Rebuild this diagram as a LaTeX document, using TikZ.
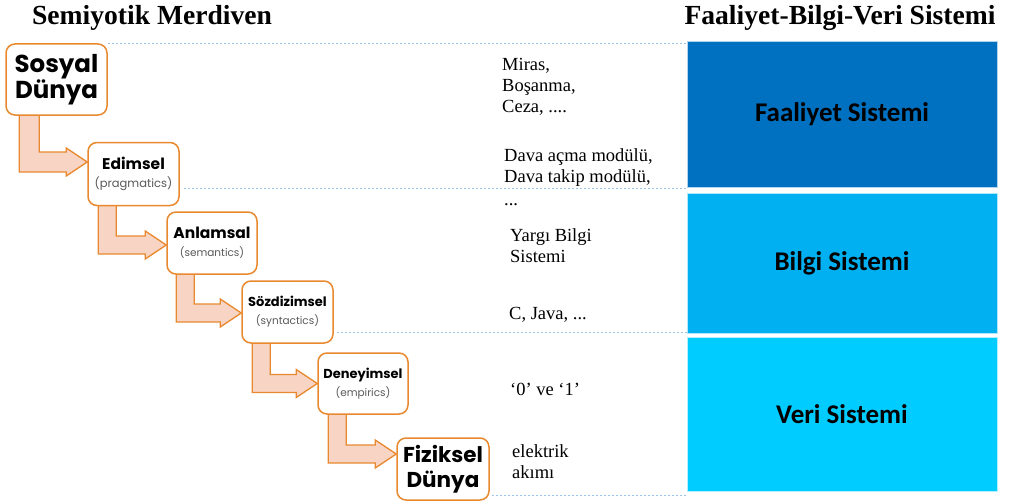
\documentclass[tikz,border=0pt]{standalone}
\usepackage{fontspec}
\setmainfont{Liberation Serif}
\newfontfamily\gothicfont{Poppins}
\newfontfamily\calfont{Carlito}
\usetikzlibrary{calc,backgrounds}
\definecolor{orng}{HTML}{E8892F}
\definecolor{peach}{HTML}{F8D4C4}
\definecolor{fblue}{HTML}{0070C0}
\definecolor{bblue}{HTML}{00B0F0}
\definecolor{vblue}{HTML}{00CCFF}
\definecolor{dotblue}{HTML}{9DC3E6}
\definecolor{subgray}{HTML}{595959}
\newcommand\subtextfont{\gothicfont\mdseries\fontsize{10.5}{12}\selectfont\color{subgray}}
\newcommand\stairarrow[5]{%
  \draw[stair] let \p1=($(#1.south west)+(#3,-3)$), \p2=($(#2.west)+(0,#4)$) in
    (\x1,\y1) -- (\x1+#5pt,\y1) -- (\x1+#5pt,\y2+#5pt/2) -- (\x2-21pt,\y2+#5pt/2)
    -- (\x2-21pt,\y2+14pt) -- (\x2,\y2) -- (\x2-21pt,\y2-14pt)
    -- (\x2-21pt,\y2-#5pt/2) -- (\x1,\y2-#5pt/2) -- cycle;}
\begin{document}
\begin{tikzpicture}[x=1pt,y=-1pt,
  stepbox/.style={draw=orng, line width=1.5pt, fill=white, rounded corners=9pt,
    align=center, inner sep=0pt},
  stair/.style={draw=orng, fill=peach, line width=1.3pt, line join=miter},
  sysbox/.style={fill=#1, draw=white!70!#1, line width=0.6pt, minimum width=310pt,
    inner sep=0pt, font=\calfont\bfseries\fontsize{27}{32}\selectfont},
  dotline/.style={draw=dotblue, line width=1pt, dash pattern=on 2.5pt off 1.5pt},
  note/.style={anchor=base west, inner sep=0pt, font=\fontsize{18.5}{21}\selectfont, align=left},
  titletext/.style={anchor=base, inner sep=0pt, font=\bfseries\fontsize{27.6}{30}\selectfont}]
\path[use as bounding box] (0,0) rectangle (1011,503);

% titles
\node[titletext] (t1) at (152,25) {Semiyotik Merdiven};
\node[titletext] (t2) at (840,25) {Faaliyet-Bilgi-Veri Sistemi};

% system boxes
\node[sysbox=fblue, minimum height=146pt] (faaliyet) at (842,114) {Faaliyet Sistemi};
\node[sysbox=bblue, minimum height=140pt] (bilgi) at (842,263) {Bilgi Sistemi};
\node[sysbox=vblue, minimum height=154pt] (veri) at (842,414) {Veri Sistemi};

% semiotic ladder
\node[stepbox, minimum width=101pt, minimum height=71pt,
  font=\gothicfont\bfseries\fontsize{24.5}{26}\selectfont] (sosyal) at (56.5,79.5) {Sosyal\\Dünya};
\node[stepbox, minimum width=91pt, minimum height=63pt,
  font=\gothicfont\bfseries\fontsize{15.5}{18}\selectfont] (edimsel) at (133.5,174)
  {Edimsel\\{\subtextfont\fontsize{11.5}{12}\selectfont(pragmatics)}};
\node[stepbox, minimum width=90pt, minimum height=62pt,
  font=\gothicfont\bfseries\fontsize{15.5}{18}\selectfont] (anlamsal) at (212,243)
  {Anlamsal\\{\subtextfont(semantics)}};
\node[stepbox, minimum width=91pt, minimum height=62pt,
  font=\gothicfont\bfseries\fontsize{13}{18}\selectfont] (sozdizimsel) at (287.5,312)
  {Sözdizimsel\\{\subtextfont(syntactics)}};
\node[stepbox, minimum width=90pt, minimum height=61pt,
  font=\gothicfont\bfseries\fontsize{13}{18}\selectfont] (deneyimsel) at (363,383.5)
  {Deneyimsel\\{\subtextfont(empirics)}};
\node[stepbox, minimum width=92pt, minimum height=62pt,
  font=\gothicfont\bfseries\fontsize{21.5}{25}\selectfont] (fiziksel) at (443,469) {Fiziksel\\Dünya};

% notes (base anchor = baseline of the last line)
\node[note] (n1) at (502,112) {Miras,\\Boşanma,\\Ceza, ....};
\node[note] (n2) at (504,182) {Dava açma modülü,\\Dava takip modülü,};
\node[note] (n3) at (504,205) {...};
\node[note] (n4) at (510,262) {Yargı Bilgi\\Sistemi};
\node[note] (n5) at (509,319) {C, Java, ...};
\node[note] (n6) at (510,395) {‘0’ ve ‘1’};
\node[note] (n7) at (512,478) {elektrik\\akımı};

\begin{scope}[on background layer]
  \stairarrow{sosyal}{edimsel}{14}{-12}{20}
  \stairarrow{edimsel}{anlamsal}{11}{2}{18}
  \stairarrow{anlamsal}{sozdizimsel}{10}{1}{18}
  \stairarrow{sozdizimsel}{deneyimsel}{11}{0}{18}
  \stairarrow{deneyimsel}{fiziksel}{11}{-15}{18}
  \draw[dotline] (sosyal.north east) -- (sosyal.north east -| faaliyet.west);
  \draw[dotline] ($(faaliyet.south west -| edimsel.east)+(4,1)$) -- ($(faaliyet.south west)+(0,1)$);
  \draw[dotline] ($(bilgi.south west -| sozdizimsel.east)+(3,-1)$) -- ($(bilgi.south west)+(0,-1)$);
  \draw[dotline] ($(veri.south west -| fiziksel.east)+(2,4)$) -- ($(veri.south west)+(0,4)$);
\end{scope}
\end{tikzpicture}
\end{document}
